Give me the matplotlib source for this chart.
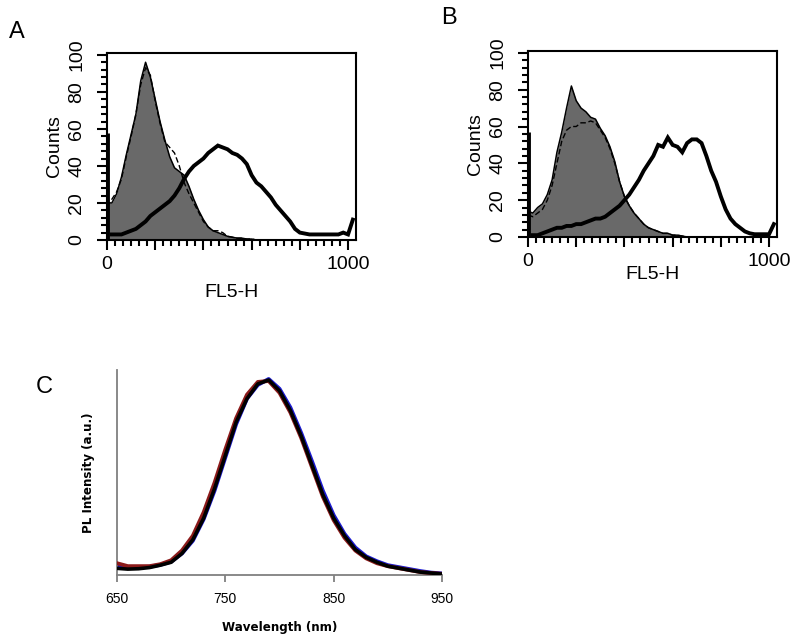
import matplotlib
matplotlib.use("Agg")
import matplotlib.pyplot as plt
from matplotlib import font_manager
from matplotlib.ticker import MultipleLocator, FixedLocator, FuncFormatter
import numpy as np

# ---------------- data ----------------
hist_x = list(range(0, 1040, 20))  # channel bins (FL5-H); first bin = channel-0 pile-up

# Panel A
a_ctrl = [20, 20, 25, 34, 46, 57, 68, 86, 96, 88, 76, 64, 54, 45, 39, 37, 35, 29, 22, 16,
          11, 7, 5, 4, 3, 2, 1.5, 1, 1, 0.5, 0.5, 0, 0, 0, 0, 0, 0, 0, 0, 0,
          0, 0, 0, 0, 0, 0, 0, 0, 0, 0, 0, 0]
a_ctrl2 = [18, 22, 26, 33, 45, 56, 68, 84, 93, 89, 75, 63, 53, 50, 47, 40, 31, 25, 20, 15,
           10, 7, 5, 5, 4, 2, 1.5, 1, 1, 0.5, 0.5, 0, 0, 0, 0, 0, 0, 0, 0, 0,
           0, 0, 0, 0, 0, 0, 0, 0, 0, 0, 0, 0]
a_sample = [58, 3, 3, 3, 4, 5, 6, 8, 10, 13, 15, 17, 19, 21, 24, 28, 33, 37, 40, 42,
            44, 47, 49, 51, 50, 49, 47, 46, 44, 41, 35, 31, 29, 26, 23, 19, 16, 13, 10, 6,
            4, 3.5, 3, 3, 3, 3, 3, 3, 3, 4, 3, 11]

# Panel B
b_ctrl = [14, 13, 16, 18, 23, 31, 46, 57, 70, 82, 74, 70, 68, 65, 64, 59, 55, 49, 41, 30,
          22, 17, 13, 10, 7, 5, 4, 3, 2, 2, 1, 1, 0.5, 0, 0, 0, 0, 0, 0, 0,
          0, 0, 0, 0, 0, 0, 0, 0, 0, 0, 0, 0]
b_ctrl2 = [12, 11, 13, 15, 20, 28, 40, 52, 58, 60, 60, 62, 62, 63, 62, 58, 54, 48, 40, 30,
           22, 17, 13, 10, 7, 5, 4, 3, 2, 2, 1, 1, 0.5, 0, 0, 0, 0, 0, 0, 0,
           0, 0, 0, 0, 0, 0, 0, 0, 0, 0, 0, 0]
b_sample = [57, 1, 1, 2, 3, 4, 5, 5, 6, 6, 7, 7, 8, 9, 10, 10, 11, 13, 15, 17,
            20, 23, 27, 31, 36, 40, 44, 50, 49, 54, 50, 49, 46, 51, 53, 53, 51, 44, 36, 30,
            22, 15, 10, 7, 5, 3, 2, 1.5, 1.5, 1.5, 1.5, 7]

# Panel C (normalised PL spectra)
wl = list(range(650, 960, 10))
pl_black = [0.034, 0.030, 0.032, 0.038, 0.050, 0.065, 0.110, 0.180, 0.290, 0.440, 0.610,
            0.780, 0.900, 0.975, 0.995, 0.940, 0.840, 0.710, 0.560, 0.410, 0.290, 0.200,
            0.130, 0.090, 0.065, 0.045, 0.035, 0.025, 0.015, 0.010, 0.005]
pl_red = [0.060, 0.045, 0.045, 0.045, 0.055, 0.075, 0.125, 0.200, 0.320, 0.470, 0.640,
          0.800, 0.920, 0.985, 0.990, 0.930, 0.830, 0.700, 0.550, 0.400, 0.280, 0.190,
          0.125, 0.085, 0.060, 0.045, 0.035, 0.025, 0.015, 0.010, 0.006]
pl_blue = [0.045, 0.040, 0.040, 0.042, 0.052, 0.068, 0.110, 0.175, 0.285, 0.430, 0.600,
           0.770, 0.900, 0.970, 1.000, 0.950, 0.855, 0.725, 0.580, 0.430, 0.305, 0.210,
           0.140, 0.095, 0.070, 0.050, 0.040, 0.030, 0.020, 0.012, 0.008]

c_ticks = [650, 750, 850, 950]

# ---------------- fonts ----------------
names = {f.name for f in font_manager.fontManager.ttflist}
narrow = "Liberation Sans Narrow" if "Liberation Sans Narrow" in names else "Liberation Sans"
FACS_FS = 14
C_FS = 10

fig = plt.figure(figsize=(8.0, 6.42), dpi=100)
W, H = 800.0, 642.0


def axes_px(l, t, r, b):
    return fig.add_axes([l / W, 1 - b / H, (r - l) / W, (b - t) / H])


GRAY = "#696969"


def facs_panel(ax, ctrl, ctrl2, sample, xlabel_pad):
    ax.fill_between(hist_x, ctrl, 0, color=GRAY, lw=0, zorder=1)
    ax.plot(hist_x, ctrl, color="black", lw=1.1, zorder=2)
    ax.plot(hist_x, ctrl2, color="black", lw=1.0, ls=(0, (4, 2)), zorder=2)
    # channel-0 pile-up drawn as a bar, the rest as the histogram trace
    ax.vlines(hist_x[0], 0, sample[0], color="black", lw=3.5, zorder=3)
    ax.plot(hist_x[1:], sample[1:], color="black", lw=2.8, zorder=3,
            solid_joinstyle="miter")
    ax.set_xlim(0, 1033)
    ax.set_ylim(0, 101)
    for s in ax.spines.values():
        s.set_linewidth(1.5)
    ax.xaxis.set_major_locator(MultipleLocator(200))
    ax.xaxis.set_minor_locator(MultipleLocator(200 / 6))
    ax.xaxis.set_major_formatter(FuncFormatter(
        lambda v, p: f"{int(round(v))}" if round(v) in (0, 1000) else ""))
    ax.yaxis.set_major_locator(MultipleLocator(20))
    ax.yaxis.set_minor_locator(MultipleLocator(4))
    ax.tick_params(which="major", direction="out", length=7.5, width=1.5, labelsize=FACS_FS)
    ax.tick_params(which="minor", direction="out", length=4.5, width=1.5)
    ax.tick_params(axis="x", which="major", pad=4)
    ax.tick_params(axis="y", which="major", pad=8)
    for lab in ax.get_yticklabels():
        lab.set_rotation(90)
        lab.set_va("center")
        lab.set_family(narrow)
    for lab in ax.get_xticklabels():
        lab.set_family(narrow)
    ax.set_xlabel("FL5-H", family=narrow, fontsize=FACS_FS, labelpad=xlabel_pad)
    ax.set_ylabel("Counts", family=narrow, fontsize=FACS_FS, labelpad=4)


axA = axes_px(107, 53, 356, 240)
facs_panel(axA, a_ctrl, a_ctrl2, a_sample, 8)
axB = axes_px(528, 51, 777, 237)
facs_panel(axB, b_ctrl, b_ctrl2, b_sample, -3)

# Panel C
axC = axes_px(117, 370, 442, 575)
axC.plot(wl, pl_blue, color="#1a1ad0", lw=2.8, zorder=2)
axC.plot(wl, pl_red, color="#8b1a1a", lw=2.8, zorder=3)
axC.plot(wl, pl_black, color="black", lw=2.6, zorder=4)
axC.set_xlim(650, 950)
axC.set_ylim(0, 1.046)
for side in ("top", "right"):
    axC.spines[side].set_visible(False)
for side in ("left", "bottom"):
    axC.spines[side].set_color("#808080")
    axC.spines[side].set_linewidth(1.3)
axC.xaxis.set_major_locator(FixedLocator(c_ticks))
axC.set_yticks([])
axC.tick_params(axis="x", direction="out", length=5, width=1.3, color="#808080",
                labelsize=C_FS, pad=7)
for lab in axC.get_xticklabels():
    lab.set_family(narrow)
axC.set_xlabel("Wavelength (nm)", fontsize=8.6, fontweight="bold", labelpad=11)
axC.set_ylabel("PL Intensity (a.u.)", fontsize=8.6, fontweight="bold", labelpad=16)

# panel letters
for letter, (px, py) in {"A": (17, 32), "B": (449, 18), "C": (44, 387)}.items():
    fig.text(px / W, 1 - py / H, letter, fontsize=17, family="Liberation Sans",
             ha="center", va="center")

fig.savefig("out.png", dpi=100)
